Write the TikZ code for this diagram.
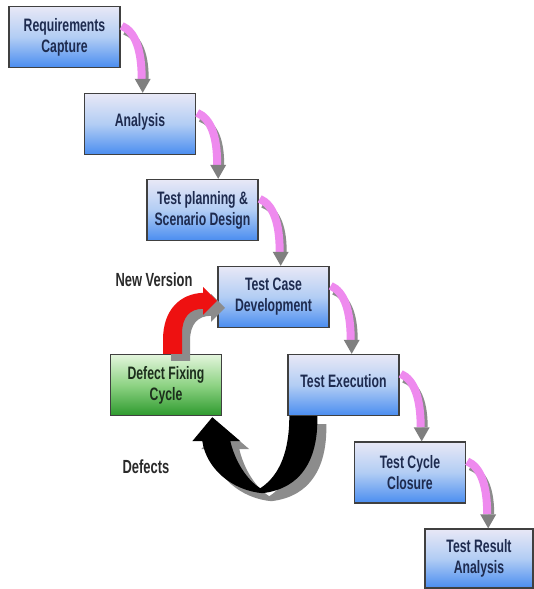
\documentclass[tikz,border=0pt]{standalone}
\usepackage{fontspec}
\setmainfont{Liberation Sans}[FakeStretch=0.68]
\usetikzlibrary{calc}
\definecolor{txt}{HTML}{1E2B4F}
\definecolor{gtxt}{HTML}{1C2E1C}
\definecolor{lbl}{HTML}{2A2A2A}
\definecolor{bTop}{HTML}{E8E8F6}
\definecolor{bMid}{HTML}{B2CDF4}
\definecolor{bBot}{HTML}{4A8DF0}
\definecolor{gTop}{HTML}{E3F5DC}
\definecolor{gMid}{HTML}{8ED384}
\definecolor{gBot}{HTML}{2E9A2E}
\definecolor{pinkc}{HTML}{EE8AEE}
\definecolor{headgray}{HTML}{7F7F7F}
\definecolor{shadowgray}{HTML}{8C8C8C}
\definecolor{redc}{HTML}{EE1111}
\begin{document}
\begin{tikzpicture}[x=1pt,y=-1pt,
  stepbox/.style={draw=black!75, line width=1.4pt, minimum width=111pt, minimum height=61pt,
    inner sep=0pt, top color=bTop, bottom color=bBot, middle color=bMid, align=center,
    font=\fontsize{18}{21}\selectfont\bfseries, text=txt},
  fixbox/.style={stepbox, top color=gTop, bottom color=gBot, middle color=gMid, text=gtxt},
  lbltext/.style={font=\fontsize{19}{22}\selectfont\bfseries, text=lbl, inner sep=0pt}]
\useasboundingbox (0,0) rectangle (534,589);
\fill[white] (0,0) rectangle (534,589);

% boxes
\node[stepbox] (b1) at (64.5,37) {Requirements\\Capture};
\node[stepbox] (b2) at (140,124) {\raisebox{8pt}{Analysis}};
\node[stepbox] (b3) at (202.5,210) {Test planning \&\\Scenario Design};
\node[stepbox] (b4) at (273.5,297) {Test Case\\Development};
\node[stepbox] (b5) at (343.5,385) {\raisebox{8pt}{Test Execution}};
\node[stepbox] (b6) at (410,472.5) {Test Cycle\\Closure};
\node[stepbox, minimum width=108pt, minimum height=59pt] (b7) at (479,558.5) {Test Result\\Analysis};
\node[fixbox] (df) at (166,385) {Defect Fixing\\Cycle};

% labels
\node[lbltext] (nv) at (154,280) {New Version};
\node[lbltext] (dl) at (146,467) {Defects};

% pink curved arrows
\foreach \p/\q in {b1/b2,b2/b3,b3/b4,b4/b5,b5/b6,b6/b7}{
  \coordinate (s) at ($(\p.north east)+(1,20)$);
  \coordinate (tx) at ($(\p.north east)+(22,0)$);
  \coordinate (e) at (tx |- \q.north);
  \coordinate (m) at ($(e)+(0,-14)$);
  \draw[line width=6pt, draw=shadowgray]
    ($(s)+(3,6)$) .. controls ($(s)+(16,11)$) and ($(m)+(3,-28)$) .. ($(m)+(3,0)$);
  \draw[line width=8pt, draw=pinkc]
    (s) .. controls ($(s)+(14,6)$) and ($(m)+(-1,-28)$) .. ($(m)+(-1,0)$);
  \fill[headgray] (e) -- ($(m)+(-8,0)$) -- ($(m)+(8,0)$) -- cycle;
}

% red arrow: Defect Fixing Cycle -> Test Case Development
\begin{scope}[shift={(df.north)}]
  \foreach \dx/\dy/\col in {8/7/shadowgray, 0/0/redc}{
    \fill[\col, shift={(\dx,\dy)}]
      (-3,0) -- (-3,-14) .. controls (-3,-44) and (14,-60) .. (37,-61)
      -- (37,-67) -- (51,-53) -- (37,-39) -- (37,-45)
      .. controls (24,-45) and (16,-37) .. (16,-20) -- (16,0) -- cycle;
  }
\end{scope}

% black U arrow: Test Execution -> Defect Fixing Cycle
\begin{scope}[shift={(b5.south west)}]
  \foreach \dx/\dy/\col in {9/8/shadowgray, 0/0/black}{
    \fill[\col, shift={(\dx,\dy)}]
      (2,0) -- (30,0) .. controls (31,39) and (17,72) .. (-25,77)
      .. controls (-56,74) and (-81,52) .. (-85,25)
      -- (-95,25) -- (-75,1) -- (-47,25) -- (-57,25)
      .. controls (-52,46) and (-40,64) .. (-27,72)
      .. controls (-7,59) and (2,34) .. (2,0) -- cycle;
  }
\end{scope}
\end{tikzpicture}
\end{document}
